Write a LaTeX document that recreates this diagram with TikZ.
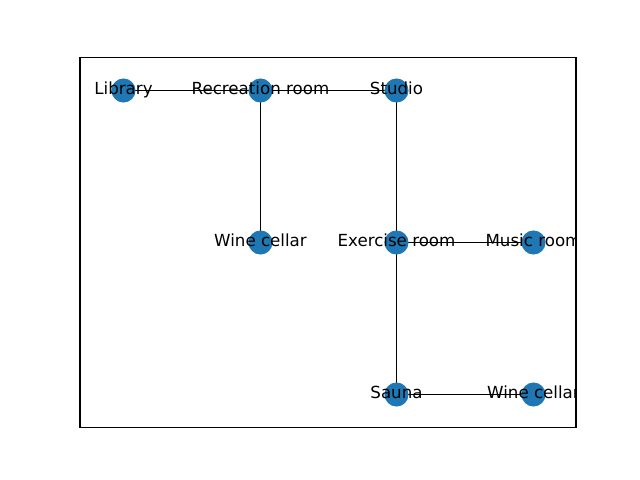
\documentclass[tikz,border=0pt]{standalone}
\usepackage{fontspec}
\setmainfont{DejaVu Sans}
\definecolor{nodeblue}{HTML}{1F77B4}
\begin{document}
\begin{tikzpicture}[x=0.72pt,y=-0.72pt,
  vert/.style={circle,fill=nodeblue,draw=none,minimum size=17.3pt,inner sep=0pt},
  lbl/.style={font=\fontsize{12}{14}\selectfont,inner sep=0pt,text=black,text height=9.1pt,text depth=2.8pt},
  edge/.style={draw=black,line width=0.9pt}]
\useasboundingbox (0,0) rectangle (640,480);
\coordinate (p1) at (123.5,90.5);
\coordinate (p2) at (260.5,90.5);
\coordinate (p3) at (396.5,90.5);
\coordinate (p4) at (260.5,242.5);
\coordinate (p5) at (396.5,242.5);
\coordinate (p6) at (533.5,242.5);
\coordinate (p7) at (396.5,394.5);
\coordinate (p8) at (533.5,394.5);
% edges
\draw[edge] (p1) -- (p2);
\draw[edge] (p2) -- (p3);
\draw[edge] (p2) -- (p4);
\draw[edge] (p3) -- (p5);
\draw[edge] (p5) -- (p6);
\draw[edge] (p5) -- (p7);
\draw[edge] (p7) -- (p8);
% nodes
\foreach \p in {p1,p2,p3,p4,p5,p6,p7,p8} \node[vert] (n\p) at (\p) {};
% labels
\begin{scope}
\clip (80,57.6) rectangle (576,427.2);
\node[lbl] (l1) at (p1) {Library};
\node[lbl] (l2) at (p2) {Recreation room};
\node[lbl] (l3) at (p3) {Studio};
\node[lbl] (l4) at (p4) {Wine cellar};
\node[lbl] (l5) at (p5) {Exercise room};
\node[lbl] (l6) at (p6) {Music room};
\node[lbl] (l7) at (p7) {Sauna};
\node[lbl] (l8) at (p8) {Wine cellar};
\end{scope}
\draw[black,line width=0.8pt] (80,57.6) rectangle (576,427.2);
\end{tikzpicture}
\end{document}
